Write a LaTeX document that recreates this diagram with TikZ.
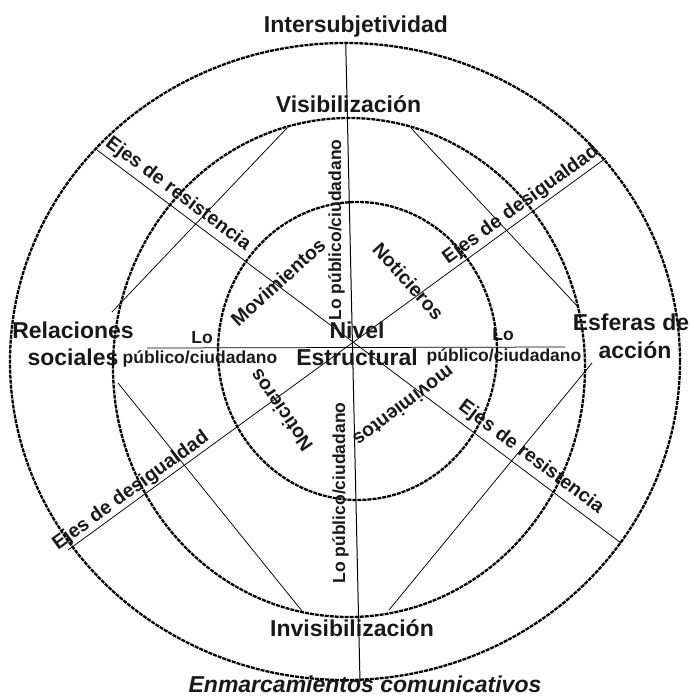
\documentclass[tikz,border=0pt]{standalone}
\usepackage{fontspec}
\setmainfont{Liberation Sans}
\begin{document}
\begin{tikzpicture}[x=1pt,y=-1pt,
  ring/.style={line width=2.3pt, dash pattern=on 4pt off 1pt, color=black},
  thin/.style={line width=0.75pt},
  axis/.style={line width=1pt},
  big/.style={font=\bfseries\fontsize{23pt}{27pt}\selectfont, inner sep=0pt, text=black!90},
  bigit/.style={font=\bfseries\itshape\fontsize{23pt}{27pt}\selectfont, inner sep=0pt, text=black!90},
  small/.style={font=\bfseries\fontsize{17.5pt}{20pt}\selectfont, inner sep=0pt, text=black!90},
  rot/.style={font=\bfseries\fontsize{19.5pt}{22pt}\selectfont, inner sep=0pt, text=black!90}]
\useasboundingbox (0,0) rectangle (689,697);
% rings
\draw[ring] (345,361.5) ellipse [x radius=335pt, y radius=318.5pt];
\draw[ring] (349,367.5) ellipse [x radius=236pt, y radius=249.5pt];
\draw[ring] (357.5,351) ellipse [x radius=139.5pt, y radius=149pt];
% coordinates
\coordinate (vt) at (345.7,41.7);
\coordinate (vb) at (360,682);
\coordinate (hl) at (147,348);
\coordinate (hr) at (565,347);
\coordinate (r1a) at (97,150);
\coordinate (r1b) at (621,543);
\coordinate (d1a) at (606,158);
\coordinate (d1b) at (68,550);
\coordinate (c1a) at (287,128);
\coordinate (c1b) at (112,312);
\coordinate (c2a) at (411,128);
\coordinate (c2b) at (579,308);
\coordinate (c3a) at (118,383);
\coordinate (c3b) at (302,611);
\coordinate (c4a) at (592,363);
\coordinate (c4b) at (389,610);
% lines
\draw[axis] (vt) -- (vb);
\draw[thin] (hl) -- (hr);
\draw[thin] (r1a) -- (r1b);
\draw[thin] (d1a) -- (d1b);
\draw[thin] (c1a) -- (c1b);
\draw[thin] (c2a) -- (c2b);
\draw[thin] (c3a) -- (c3b);
\draw[thin] (c4a) -- (c4b);
% horizontal labels
\node[big, anchor=base] (int) at (356,32) {Intersubjetividad};
\node[big, anchor=base] (vis) at (348.5,112) {Visibilización};
\node[big, anchor=base] (invis) at (352,636) {Invisibilización};
\node[bigit, anchor=base] (enm) at (365,692) {Enmarcamientos comunicativos};
\node[big, anchor=base] (rel) at (73,338) {Relaciones};
\node[big, anchor=base] (soc) at (73,365) {sociales};
\node[big, anchor=base] (esf) at (631,330) {Esferas de};
\node[big, anchor=base] (acc) at (635,358) {acción};
\node[big, anchor=base] (niv) at (357,338) {Nivel};
\node[big, anchor=base] (estr) at (357,365) {Estructural};
\node[small, anchor=base] (loL) at (202,343) {Lo};
\node[small, anchor=base] (pubL) at (200,363) {público/ciudadano};
\node[small, anchor=base] (loR) at (503,340) {Lo};
\node[small, anchor=base] (pubR) at (504,361) {público/ciudadano};
% vertical labels
\node[small, anchor=base, rotate=90] (vtop) at (341,230) {Lo público/ciudadano};
\node[small, anchor=base, rotate=90] (vbot) at (345,493) {Lo público/ciudadano};
% inner rotated labels
\node[rot, rotate=42] (mov) at (278,282) {Movimientos};
\node[rot, rotate=-48] (not1) at (408.5,281) {Noticieros};
\node[rot, rotate=124.5] (not2) at (281,410.5) {Noticieros};
\node[rot, rotate=-143] (mov2) at (404,406.5) {movimientos};
% axis labels
\node[rot, rotate=-36.87] (ej1) at (178,194) {Ejes de resistencia};
\node[rot, rotate=36.1] (ej2) at (521,205) {Ejes de desigualdad};
\node[rot, rotate=36.1] (ej3) at (131,491) {Ejes de desigualdad};
\node[rot, rotate=-36.87] (ej4) at (531,457.5) {Ejes de resistencia};
\end{tikzpicture}
\end{document}
